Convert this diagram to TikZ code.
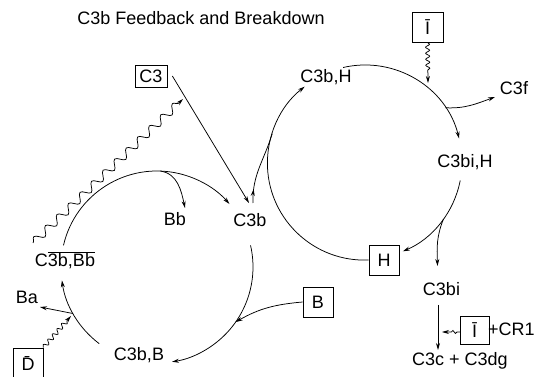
\documentclass[tikz,border=0pt]{standalone}
\usepackage{fontspec}
\setmainfont{Liberation Sans}
\usetikzlibrary{arrows.meta,decorations.pathmorphing,decorations.markings,calc}
\begin{document}
\begin{tikzpicture}[x=1pt,y=1pt,
  every node/.style={font=\fontsize{18}{21}\selectfont, inner sep=0pt},
  lbl/.style={anchor=base},
  boxn/.style 2 args={draw, line width=0.75pt, minimum width=#1, minimum height=#2},
  ln/.style={line width=0.75pt},
  arr/.style={ln, -{Stealth[length=7pt,width=4pt]}},
  wav/.style args={#1/#2/#3}{decorate, decoration={snake, segment length=#1, amplitude=#2, post length=#3}}
]
\useasboundingbox (0,0) rectangle (539,-377);

% nodes
\node[lbl] (title) at (201,-25) {C3b Feedback and Breakdown};
\node[boxn={32pt}{22pt}] (c3) at (151,-76) {C3};
\node[boxn={31pt}{30pt}] (itop) at (427.5,-27) {Ī};
\node[lbl] (c3bh) at (326,-83) {C3b,H};
\node[lbl] (c3f) at (514,-95) {C3f};
\node[lbl] (c3bih) at (465,-168) {C3bi,H};
\node[lbl] (bb) at (175,-226) {Bb};
\node[lbl] (c3b) at (250,-227) {C3b};
\node[lbl] (c3bbb) at (65,-267) {C$\overline{\mbox{3b,Bb}}$};
\node[lbl] (ba) at (27,-304) {Ba};
\node[boxn={30pt}{30pt}] (h) at (384,-260) {H};
\node[lbl] (c3bi) at (441.5,-295) {C3bi};
\node[boxn={30pt}{30pt}] (b) at (318,-302) {B};
\node[lbl] (c3bB) at (139,-360) {C3b,B};
\node[boxn={30pt}{36pt}] (d) at (28,-366) {\raisebox{5pt}{\={D}}};
\node[boxn={29pt}{28pt}] (ibot) at (474.5,-330) {Ī};
\node[lbl, anchor=base west] (cr1) at (488,-336) {+CR1};
\node[lbl] (c3c) at (460,-366) {C3c + C3dg};

% centres and free ends
\coordinate (Lc) at (157,-267);
\coordinate (Rc) at (365,-162);
\path (Lc) ++(167:96) coordinate (l1);
\path (Lc) ++(88:96) coordinate (l2);
\path (Lc) ++(13:96) coordinate (l3);
\path (Lc) ++(233:96) coordinate (l4);
\path (Lc) ++(209:96) coordinate (l5);
\path (Lc) ++(-35:96) coordinate (l6);
\path (Rc) ++(163:97) coordinate (r1);
\path (Rc) ++(103:97) coordinate (r2);
\path (Rc) ++(34:97) coordinate (r3);
\path (Rc) ++(-11:97) coordinate (r4);
\path (Rc) ++(-36:97) coordinate (r5);
\coordinate (bbtip) at (185,-208);
\coordinate (batip) at (40,-307);
\coordinate (dtip) at (71,-316);
\coordinate (wstart) at (33,-243);
\coordinate (wtip) at (183,-99);
\coordinate (c3tip) at (249,-203);
\coordinate (c3bup) at (253,-203);
\coordinate (c3ftip) at (495,-97);
\coordinate (itip) at (428,-83);
\coordinate (c3bitip) at (437.5,-266);
\coordinate (c3bibot) at (438,-305);
\coordinate (c3ctip) at (438,-350);
\coordinate (ibotstart) at (460,-332);
\coordinate (ibottip) at (442,-332);

% left cycle
\draw[arr] (l1) arc[start angle=167, end angle=41, radius=96];
\draw[arr] (l2) to[out=-8,in=102] (bbtip);
\draw[arr] (l3) arc[start angle=13, end angle=-81, radius=96];
\draw[arr] (l4) arc[start angle=233, end angle=188, radius=96];
\draw[arr] (l5) -- (batip);
\draw[arr, wav={7pt/2.2pt/6pt}] (d.north east) -- (dtip);
\draw[arr, wav={16pt/4pt/5pt}] (wstart) -- (wtip);
\draw[arr] ([xshift=5pt]c3.east) -- (c3tip);
\draw[arr] (b.west) to[out=185,in=30] (l6);

% C3b joining the right cycle
\draw[ln, postaction={decorate}, decoration={markings, mark=at position 14pt with {\arrow{Stealth[length=7pt,width=4pt]}}}]
  (c3bup) to[out=92,in=-107] (r1);

% right cycle
\draw[arr] (h.west) arc[start angle=272.5, end angle=128, radius=97];
\draw[arr] (r2) arc[start angle=103, end angle=14, radius=97];
\draw[arr] (r3) to[out=-3,in=200] (c3ftip);
\draw[arr, wav={6pt/2pt/10pt}] (itop.south) -- (itip);
\draw[arr] (r4) arc[start angle=-11, end angle=-67, radius=97];
\draw[arr] (r5) to[out=-112,in=92] (c3bitip);
\draw[arr] (c3bibot) -- (c3ctip);
\draw[arr, decorate, decoration={snake, segment length=5pt, amplitude=1.5pt, pre length=3pt, post length=7pt}] (ibotstart) -- (ibottip);
\end{tikzpicture}
\end{document}
